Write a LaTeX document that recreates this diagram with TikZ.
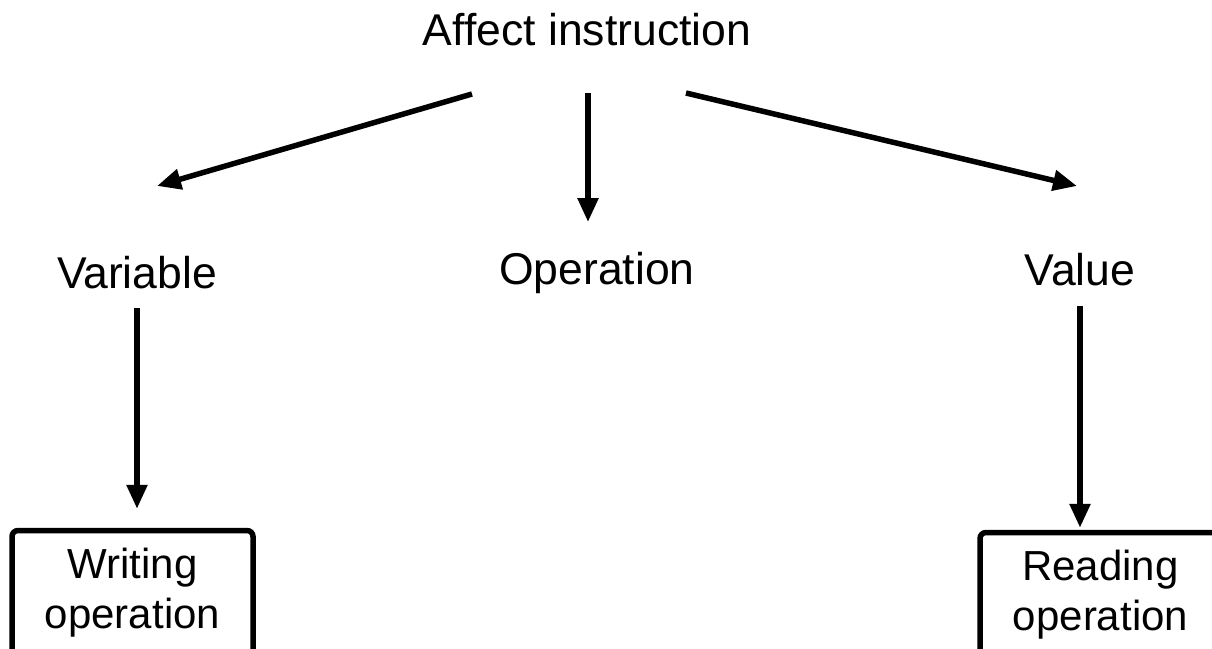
\documentclass[tikz,border=0pt]{standalone}
\usepackage{fontspec}
\setmainfont{Liberation Sans}
\usetikzlibrary{arrows.meta, positioning}

\begin{document}
\begin{tikzpicture}[
    x=1pt, y=-1pt,
    >={Triangle[length=24pt, width=20pt]},
    label/.style={font=\fontsize{44.5}{50}\selectfont, inner sep=0pt, align=center},
    opbox/.style={
      draw, line width=5.5pt, rounded corners=6pt, align=center,
      font=\fontsize{42}{50}\selectfont, minimum width=241pt, minimum height=125pt
    },
    link/.style={->, line width=5.5pt}
]
    \useasboundingbox (0,0) rectangle (1212,648);

    % Labels
    \node[label] (Affect) at (587,30) {Affect instruction};
    \node[label] (Variable) at (137,273) {Variable};
    \node[label] (Operation) at (597,273) {Operation};
    \node[label] (Value) at (1080,270) {Value};

    % Boxes
    \node[opbox] (Writing) at (132.5,593) {Writing\\operation};
    \node[opbox] (Reading) at (1100.5,595) {Reading\\operation};

    % Directed edges
    \draw[link] ([shift={(-115,64)}]Affect.center) -- ([shift={(20,-87)}]Variable.center);
    \draw[link] ([shift={(1,63)}]Affect.center) -- ([shift={(-9,-51)}]Operation.center);
    \draw[link] ([shift={(99,63)}]Affect.center) -- ([shift={(-3,-84)}]Value.center);
    \draw[link] ([shift={(0,35)}]Variable.center) -- ([shift={(4.5,-19)}]Writing.north);
    \draw[link] ([shift={(0,36)}]Value.center) -- ([shift={(-20.5,-2)}]Reading.north);
\end{tikzpicture}
\end{document}
